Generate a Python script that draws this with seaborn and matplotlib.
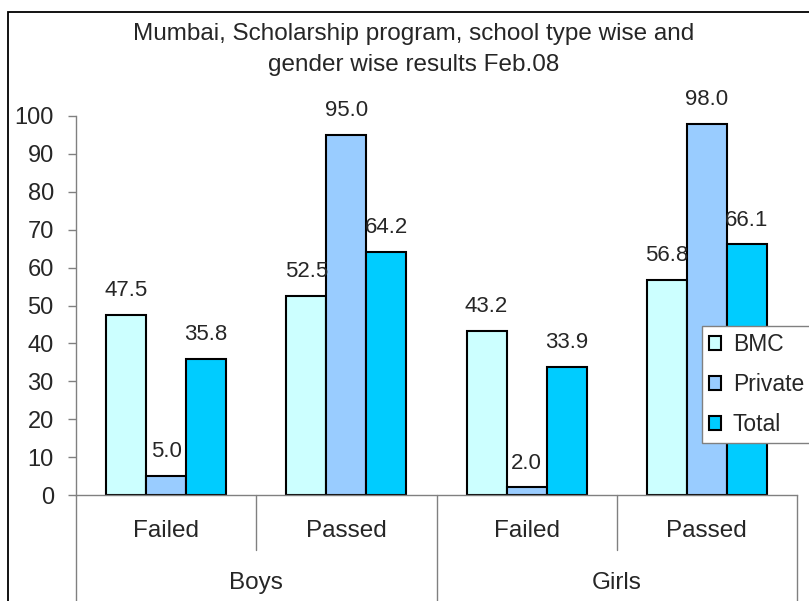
import pandas as pd
import matplotlib.pyplot as plt
import seaborn as sns
from matplotlib.patches import Rectangle
import matplotlib.transforms as mtransforms

# data
groups = ['Boys', 'Boys', 'Girls', 'Girls']
outcomes = ['Failed', 'Passed', 'Failed', 'Passed']
bmc = [47.5, 52.5, 43.2, 56.8]
private = [5.0, 95.0, 2.0, 98.0]
total = [35.8, 64.2, 33.9, 66.1]
school_types = ['BMC', 'Private', 'Total']
colors = ['#CCFFFF', '#99CCFF', '#00CCFF']

cats = [g + ' ' + o for g, o in zip(groups, outcomes)]
rows = []
for name, vals in zip(school_types, [bmc, private, total]):
    for c, v in zip(cats, vals):
        rows.append({'cat': c, 'school': name, 'value': v})
df = pd.DataFrame(rows)

sns.set_style('white')
plt.rcParams['font.family'] = ['Liberation Sans', 'DejaVu Sans']

fig = plt.figure(figsize=(8.09, 6.01), dpi=100)
ax = fig.add_axes([76 / 809, 1 - 495 / 601, (797 - 76) / 809, (495 - 116) / 601])

sns.barplot(data=df, x='cat', y='value', hue='school', order=cats,
            hue_order=school_types, palette=colors, saturation=1,
            edgecolor='black', linewidth=1.5, width=0.666, ax=ax)

for cont in ax.containers:
    ax.bar_label(cont, fmt='%.1f', padding=10, fontsize=16)

ax.set_ylim(0, 100)
ax.set_xlim(-0.5, 3.5)
ax.set_yticks(range(0, 101, 10))
ax.set_xticks([])
ax.set_xlabel('')
ax.set_ylabel('')
ax.tick_params(axis='y', labelsize=17, length=6, width=1, color='#808080',
               pad=10, left=True, direction='out')
for s in ['top', 'right']:
    ax.spines[s].set_visible(False)
for s in ['left', 'bottom']:
    ax.spines[s].set_color('#808080')
    ax.spines[s].set_linewidth(1)

# two-level category axis
trans = mtransforms.blended_transform_factory(ax.transData, ax.transAxes)
for x in [-0.5, 1.5, 3.5]:
    ax.plot([x, x], [0, -0.35], transform=trans, color='#808080', lw=1, clip_on=False)
for x in [0.5, 2.5]:
    ax.plot([x, x], [0, -0.145], transform=trans, color='#808080', lw=1, clip_on=False)
for i, o in enumerate(outcomes):
    ax.text(i, -0.095, o, transform=trans, ha='center', va='center', fontsize=17.5)
for xc, g in [(0.5, 'Boys'), (2.5, 'Girls')]:
    ax.text(xc, -0.232, g, transform=trans, ha='center', va='center', fontsize=17.5)

leg = ax.legend(loc='upper left', bbox_to_anchor=(702 / 809, 1 - 326 / 601),
                bbox_transform=fig.transFigure, borderaxespad=0, fontsize=16.5,
                frameon=True, fancybox=False, framealpha=1, edgecolor='#808080',
                handlelength=0.55, handleheight=0.55, handletextpad=0.5,
                labelspacing=0.74, borderpad=0.3, title=None)
leg.get_frame().set_linewidth(1)

fig.text(414 / 809, 1 - 34 / 601, 'Mumbai, Scholarship program, school type wise and',
         ha='center', va='center', fontsize=17.5)
fig.text(414 / 809, 1 - 65 / 601, 'gender wise results Feb.08',
         ha='center', va='center', fontsize=17.5)

fig.patches.append(Rectangle((8 / 809, -0.2), 2, 1.2 - 12 / 601, transform=fig.transFigure,
                             fill=False, edgecolor='black', lw=1.3))

fig.savefig('out.png', dpi=100, facecolor='white')
